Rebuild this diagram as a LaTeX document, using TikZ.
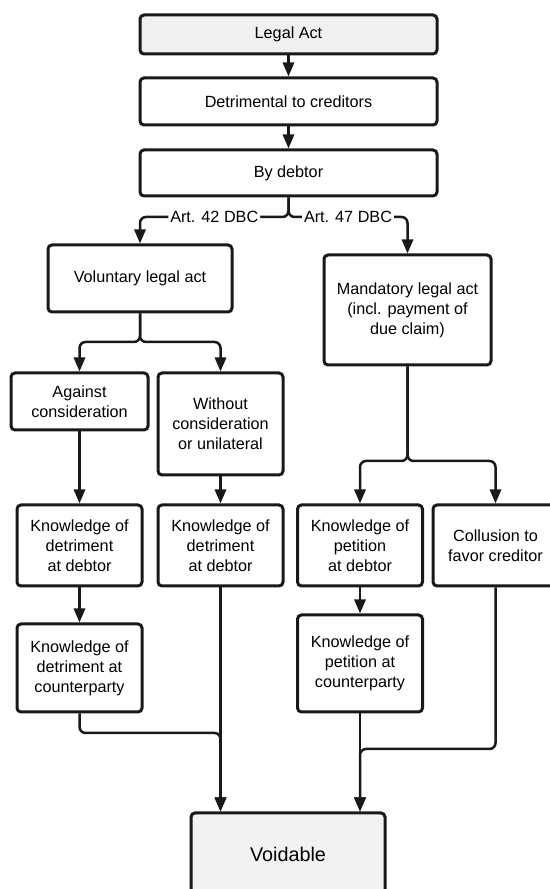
\documentclass[tikz,border=0pt]{standalone}
\usepackage{fontspec}
\setmainfont{Liberation Sans}
\usetikzlibrary{arrows.meta}

\begin{document}
\begin{tikzpicture}[x=1pt, y=1pt, font=\fontsize{8.1}{10}\selectfont,
          >={Triangle[length=7pt,width=5.6pt]},
          box/.style={draw=black!90, line width=1.5pt, rounded corners=2pt, align=center, inner sep=2pt},
          kb/.style={box, minimum width=62.5pt, minimum height=40.5pt},
          top/.style={box, minimum width=148.5pt},
          arr/.style={->, draw=black!90, line width=1.25pt, rounded corners=3pt},
          lbl/.style={fill=white, inner sep=1pt}]
        \useasboundingbox (0,0) rectangle (275,444.5);
        % chain at the top
        \node[top, fill=black!6, minimum height=19.5pt] (legal) at (144.25,427.25) {Legal Act};
        \node[top, minimum height=23.5pt] (detr) at (144.25,393.75) {Detrimental to creditors};
        \node[top, minimum height=23pt] (debtor) at (144.25,358) {By debtor};
        % two kinds of act
        \node[box, minimum width=92pt, minimum height=33.5pt] (vol) at (70,305.25) {Voluntary legal act};
        \node[box, minimum width=83.5pt, minimum height=55pt] (mand) at (203.75,289.5) {Mandatory legal act\\(incl. payment of\\due claim)};
        \node[box, minimum width=68.5pt, minimum height=28.5pt] (against) at (39.75,243.75) {Against\\consideration};
        \node[box, minimum width=62.5pt, minimum height=51pt] (without) at (110.25,232.5) {Without\\consideration\\or unilateral};
        % knowledge row
        \node[kb] (k1) at (39.75,171.75) {Knowledge of\\detriment\\at debtor};
        \node[kb] (k2) at (110.25,171.75) {Knowledge of\\detriment\\at debtor};
        \node[kb] (k3) at (180,171.75) {Knowledge of\\petition\\at debtor};
        \node[kb] (coll) at (247.75,171.75) {Collusion to\\favor creditor};
        \node[kb, minimum height=44pt] (k5) at (39.75,110.5) {Knowledge of\\detriment at\\counterparty};
        \node[kb, minimum height=48.5pt] (k6) at (180,112.75) {Knowledge of\\petition at\\counterparty};
        \node[box, fill=black!5, minimum width=97pt, minimum height=41pt, font=\fontsize{9.9}{12}\selectfont] (void) at (144,17.5) {Voidable};
        % junctions
        \coordinate (s1) at (144.25,336);
        \coordinate (s2) at (70,273.5);
        \coordinate (s3) at (203.75,214);
        \coordinate (j1) at (110.25,78);
        \coordinate (j2) at (180,70);
        % connectors
        \draw[arr] (legal) -- (detr);
        \draw[arr] (detr) -- (debtor);
        \draw[arr] (debtor.south) -- (s1) -| node[pos=0.25, lbl] {Art. 42 DBC} (vol.north);
        \draw[arr] (debtor.south) -- (s1) -| node[pos=0.25, lbl] {Art. 47 DBC} (mand.north);
        \draw[arr] (vol.south) -- (s2) -| (against.north);
        \draw[arr] (vol.south) -- (s2) -| (without.north);
        \draw[arr] (mand.south) -- (s3) -| (k3.north);
        \draw[arr] (mand.south) -- (s3) -| (coll.north);
        \draw[arr] (against) -- (k1);
        \draw[arr] (without) -- (k2);
        \draw[arr] (k1) -- (k5);
        \draw[arr] (k3) -- (k6);
        \draw[arr] (k2.south) -- (k2.south |- void.north);
        \draw[arr] (k5.south) |- (j1) -- (k2.south |- void.north);
        \draw[arr] (k6.south) -- (k6.south |- void.north);
        \draw[arr] (coll.south) |- (j2) -- (k6.south |- void.north);
      \end{tikzpicture}
\end{document}
